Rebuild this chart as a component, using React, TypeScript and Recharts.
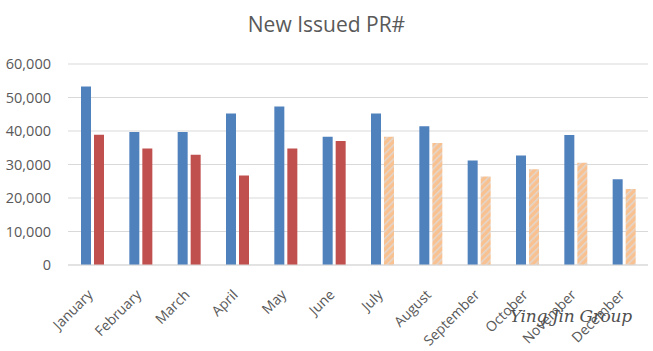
import { BarChart, Bar, XAxis, YAxis, CartesianGrid, Cell } from 'recharts';

const months = ['January', 'February', 'March', 'April', 'May', 'June', 'July', 'August', 'September', 'October', 'November', 'December'];
const issued = [53300, 39700, 39700, 45200, 47300, 38300, 45200, 41400, 31200, 32700, 38800, 25600];
const compare = [38900, 34800, 32900, 26700, 34800, 37000, 38300, 36400, 26400, 28600, 30500, 22700];
const forecastFrom = 6;
const yTicks = [0, 10000, 20000, 30000, 40000, 50000, 60000];

const data = months.map((m, i) => ({ month: m, issued: issued[i], compare: compare[i] }));

const font = '"Open Sans", sans-serif';

function MonthTick({ x, y, payload }: any) {
  return (
    <text
      x={0}
      y={0}
      transform={`translate(${x - 1},${y + 20}) rotate(-45)`}
      textAnchor="end"
      dominantBaseline="middle"
      fill="#595959"
      fontSize={14}
      fontFamily={font}
    >
      {payload.value}
    </text>
  );
}

export default function App() {
  return (
    <div style={{ position: 'absolute', left: 0, top: 0, width: 653, height: 351, background: '#fff' }}>
      <svg width={0} height={0} style={{ position: 'absolute' }}>
        <defs>
          <pattern id="hatch" width={5} height={5} patternUnits="userSpaceOnUse" patternTransform="rotate(45)">
            <rect width={5} height={5} fill="#f9c18f" />
            <rect width={1.6} height={5} fill="#e3d6cc" />
          </pattern>
        </defs>
      </svg>
      <div
        style={{
          position: 'absolute', left: 0, top: 10, width: 653, textAlign: 'center',
          fontFamily: font, fontSize: 21, color: '#595959',
        }}
      >
        New Issued PR#
      </div>
      <BarChart
        width={653}
        height={351}
        data={data}
        margin={{ top: 64, right: 5, left: 0, bottom: 0 }}
        barSize={10}
        barGap={3}
      >
        <CartesianGrid vertical={false} stroke="#d9d9d9" />
        <XAxis
          dataKey="month"
          interval={0}
          tickLine={false}
          axisLine={{ stroke: '#d9d9d9' }}
          height={86}
          tick={<MonthTick />}
        />
        <YAxis
          width={68}
          domain={[0, 60000]}
          ticks={yTicks}
          axisLine={false}
          tickLine={false}
          tickMargin={11}
          tickFormatter={(v: number) => v.toLocaleString('en-US')}
          tick={{ fill: '#595959', fontSize: 14.5, fontFamily: font }}
        />
        <Bar dataKey="issued" fill="#4f81bd" isAnimationActive={false} />
        <Bar dataKey="compare" fill="#c0504d" isAnimationActive={false}>
          {data.map((d, i) => (
            <Cell key={d.month} fill={i < forecastFrom ? '#c0504d' : 'url(#hatch)'} />
          ))}
        </Bar>
      </BarChart>
      <div
        style={{
          position: 'absolute', left: 510, top: 306, fontFamily: '"DejaVu Serif", serif',
          fontStyle: 'italic', fontSize: 17, color: '#505050', letterSpacing: -0.3,
        }}
      >
        Ying Jin Group
      </div>
    </div>
  );
}
